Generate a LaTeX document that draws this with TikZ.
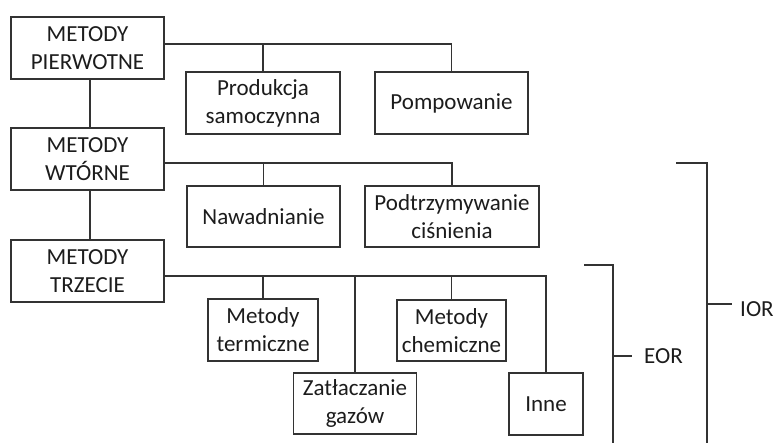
\documentclass[tikz,border=0pt]{standalone}
\usepackage{fontspec}
\setmainfont{Carlito}
\definecolor{ln}{HTML}{333333}
\definecolor{tx}{HTML}{1C1C1C}
\begin{document}
\begin{tikzpicture}[x=1pt,y=-1pt,
  box/.style={draw=ln, line width=1.6pt, rectangle, inner sep=0pt, align=center, text=tx, font=\fontsize{23}{28}\selectfont},
  conn/.style={draw=ln, line width=1.3pt},
  lbl/.style={inner sep=0pt, anchor=west, text=tx, font=\fontsize{23}{28}\selectfont}]
\useasboundingbox[fill=white] (0,0) rectangle (776,443);
% main column
\node[box, minimum width=153pt, minimum height=62pt] (pier) at (87.5,48) {METODY\\PIERWOTNE};
\node[box, minimum width=153pt, minimum height=62pt] (wt) at (87.5,159) {METODY\\WTÓRNE};
\node[box, minimum width=153pt, minimum height=62pt] (trz) at (87.5,271) {METODY\\TRZECIE};
% first level children
\node[box, minimum width=154pt, minimum height=62pt] (prod) at (263,103) {Produkcja\\samoczynna};
\node[box, minimum width=153pt, minimum height=62pt] (pomp) at (451.5,103) {Pompowanie};
% second level children
\node[box, minimum width=153pt, minimum height=61pt] (naw) at (263.5,216.5) {Nawadnianie};
\node[box, minimum width=174pt, minimum height=61pt] (podt) at (452,216.5) {Podtrzymywanie\\ciśnienia};
% third level children
\node[box, minimum width=110pt, minimum height=62pt] (term) at (263,330) {Metody\\termiczne};
\node[box, minimum width=109pt, minimum height=61pt] (chem) at (451.5,330.5) {Metody\\chemiczne};
\node[box, minimum width=123pt, minimum height=61pt] (zat) at (355,403.5) {Zatłaczanie\\gazów};
\node[box, minimum width=74pt, minimum height=62pt] (inne) at (546,404) {Inne};
% connectors: first level
\coordinate (j1) at (pomp.north |- 0,44);
\draw[conn] (pier.east |- j1) -- (j1) -- (pomp.north);
\draw[conn] (prod.north) -- (prod.north |- j1);
% connectors: second level
\coordinate (j2) at (podt.north |- 0,163);
\draw[conn] (wt.east |- j2) -- (j2) -- (podt.north);
\draw[conn] (naw.north) -- (naw.north |- j2);
% connectors: third level
\coordinate (j3) at (inne.north |- 0,276);
\draw[conn] (trz.east |- j3) -- (j3) -- (inne.north);
\draw[conn] (term.north) -- (term.north |- j3);
\draw[conn] (chem.north) -- (chem.north |- j3);
\draw[conn] (zat.north) -- (zat.north |- j3);
% main vertical links
\draw[conn] ([xshift=2.5pt]pier.south) -- ([xshift=2.5pt]wt.north);
\draw[conn] ([xshift=2.5pt]wt.south) -- ([xshift=2.5pt]trz.north);
% EOR bracket
\coordinate (eTop) at (584,265);
\coordinate (eCorner) at (613,265);
\coordinate (eEnd) at (613,444);
\coordinate (eTick) at (613,356);
\node[lbl] (eor) at (644,356) {EOR};
\draw[conn] (eTop) -- (eCorner) -- (eEnd);
\draw[conn] (eTick) -- ([xshift=-12pt]eor.west |- eTick);
% IOR bracket
\coordinate (iTop) at (676,163);
\coordinate (iCorner) at (707,163);
\coordinate (iEnd) at (707,444);
\coordinate (iTick) at (707,304);
\node[lbl] (ior) at (740,309) {IOR};
\draw[conn] (iTop) -- (iCorner) -- (iEnd);
\draw[conn] (iTick) -- ([xshift=-8pt]ior.west |- iTick);
\end{tikzpicture}
\end{document}
